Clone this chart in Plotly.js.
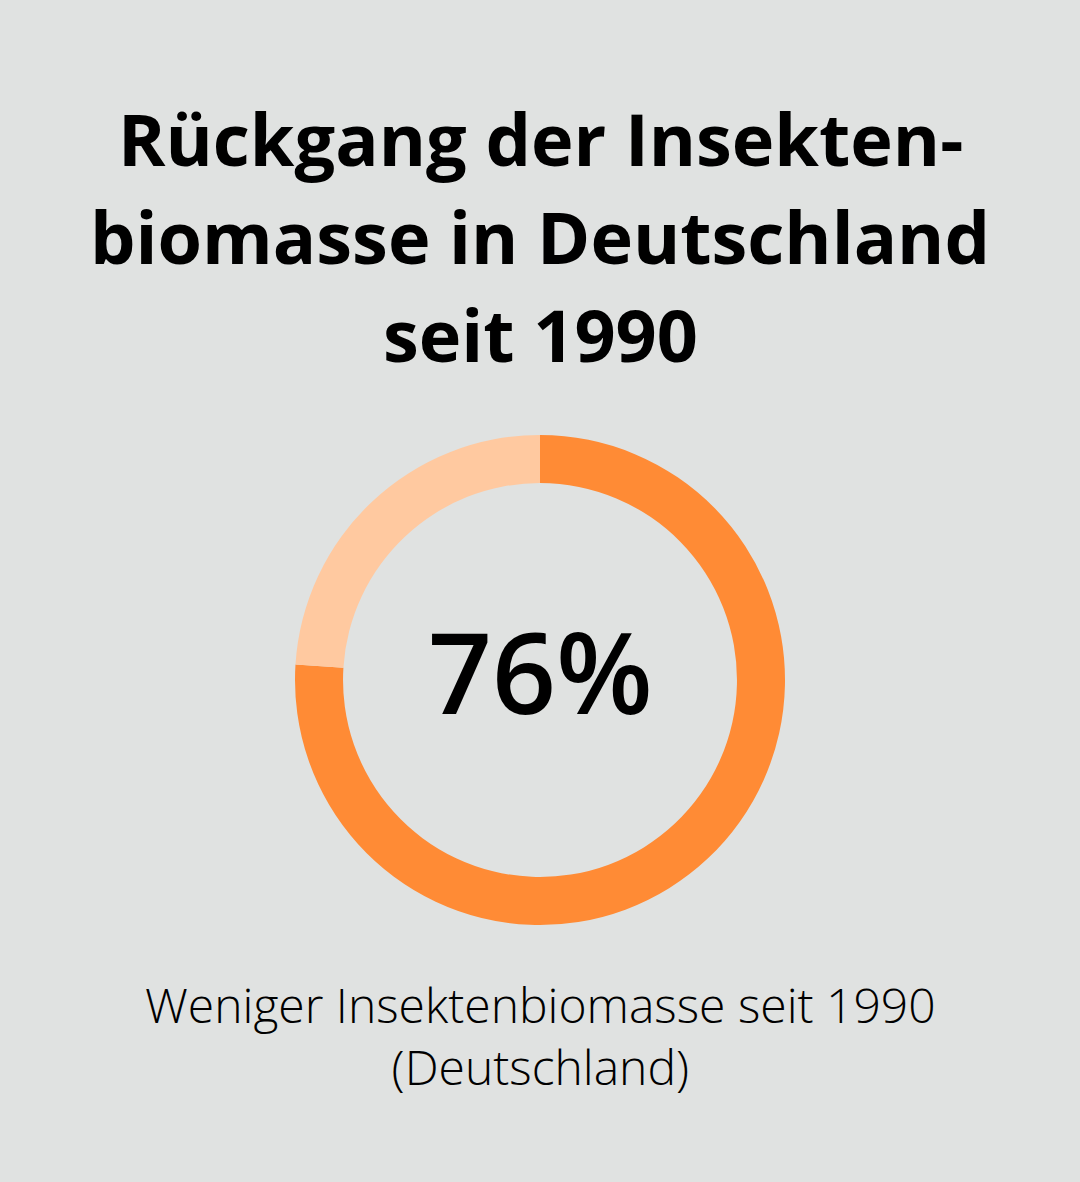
<!DOCTYPE html>
<html>
<head>
<meta charset="utf-8">
<script src="https://cdn.plot.ly/plotly-3.0.1.min.js"></script>
<style>html,body{margin:0;padding:0;background:#e0e2e1;}#chart{width:1080px;height:1182px;}</style>
</head>
<body>
<div id="chart"></div>
<script>
const labels = ["Rückgang", "Verbleibend"];
const values = [76, 24];
const colors = ["#ff8b35", "#ffc9a0"];
const titleLines = ["Rückgang der Insekten-", "biomasse in Deutschland", "seit 1990"];
const centerText = "76%";
const captionText = "Weniger Insektenbiomasse seit 1990<br>(Deutschland)";

const data = [{
  type: "pie",
  labels: labels,
  values: values,
  hole: 0.804,
  sort: false,
  direction: "clockwise",
  rotation: 0,
  marker: {colors: colors, line: {width: 0}},
  textinfo: "none",
  hoverinfo: "none",
  showlegend: false,
  domain: {x: [295/1080, 785/1080], y: [1 - 925/1182, 1 - 435/1182]}
}];

const titleCenters = [138, 236, 334];
const annotations = titleLines.map((t, i) => ({
  text: t, x: 0.5, y: 1 - titleCenters[i]/1182, xref: "paper", yref: "paper",
  xanchor: "center", yanchor: "middle", showarrow: false,
  font: {family: "Open Sans", size: 72, color: "#000000", weight: 700}
}));
annotations.push(
  {text: centerText, x: 0.5, y: 1 - 670/1182, xref: "paper", yref: "paper", xanchor: "center", yanchor: "middle", showarrow: false,
   font: {family: "Open Sans", size: 112, color: "#000000", weight: 600}},
  {text: captionText, x: 0.5, y: 1 - 1035/1182, xref: "paper", yref: "paper", xanchor: "center", yanchor: "middle", showarrow: false,
   font: {family: "Open Sans", size: 48, color: "#000000", weight: 300}}
);

const layout = {
  width: 1080, height: 1182,
  margin: {l: 0, r: 0, t: 0, b: 0},
  paper_bgcolor: "#e0e2e1",
  plot_bgcolor: "#e0e2e1",
  showlegend: false,
  annotations: annotations
};

Plotly.newPlot("chart", data, layout, {displayModeBar: false, staticPlot: true});
</script>
</body>
</html>
